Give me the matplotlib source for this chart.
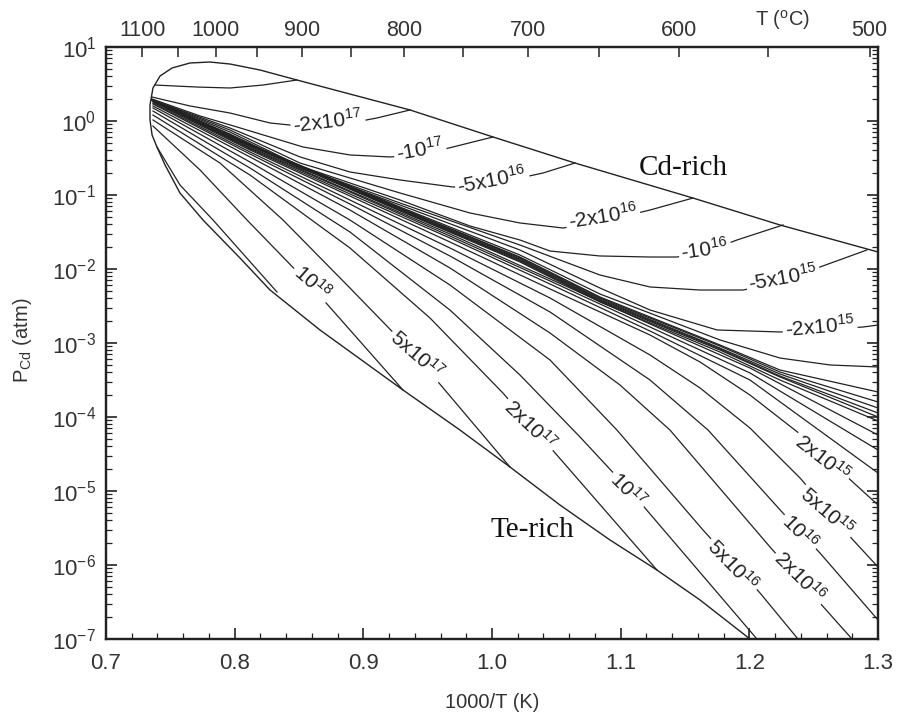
import numpy as np
import matplotlib.pyplot as plt
from matplotlib.ticker import MultipleLocator, LogLocator, NullFormatter

plt.rcParams['font.family'] = ['Liberation Sans', 'DejaVu Sans']
plt.rcParams['mathtext.default'] = 'regular'
plt.rcParams['axes.unicode_minus'] = False

# all curves: x = 1000/T (1/K), lp = log10(P_Cd / atm)

# solidus (existence region of CdTe): Cd-rich side, left tip, Te-rich side
solidus_x = [1.300, 1.2238, 1.1562, 1.0645, 1.0008, 0.9363, 0.8484, 0.8197, 0.7964, 0.7808, 0.7653,
             0.7513, 0.7420, 0.7365, 0.7342, 0.7342, 0.7358, 0.7396, 0.7459, 0.7575, 0.7754, 0.8041,
             0.8275, 0.8663, 0.9308, 0.9751, 1.0140, 1.0528, 1.0917, 1.1282, 1.1617, 1.2005]
solidus_lp = [-1.77, -1.405, -1.041, -0.568, -0.216, 0.149, 0.554, 0.689, 0.770, 0.797, 0.784,
              0.716, 0.608, 0.446, 0.216, 0.014, -0.189, -0.351, -0.595, -0.973, -1.338, -1.851,
              -2.284, -2.824, -3.635, -4.176, -4.676, -5.189, -5.662, -6.068, -6.473, -7.0]

# iso-concentration lines, negative (Cd-rich side)
neg_5e17 = ([0.7381, 0.7536, 0.7707, 0.7964, 0.8220, 0.8484],
            [0.486, 0.473, 0.459, 0.446, 0.486, 0.554])
neg_2e17 = ([0.7358, 0.7653, 0.7964, 0.8275, 0.8508, 0.8819, 0.9106, 0.9363],
            [0.324, 0.203, 0.108, -0.027, -0.068, -0.054, 0.041, 0.149])
neg_1e17 = ([0.7358, 0.7731, 0.8018, 0.8531, 0.8896, 0.9207, 0.9440, 0.9697, 1.0008],
            [0.297, 0.068, -0.081, -0.351, -0.459, -0.486, -0.459, -0.351, -0.216])
neg_5e16 = ([0.7358, 0.7964, 0.8508, 0.8896, 0.9285, 0.9697, 0.9984, 1.0217, 1.0396, 1.0645],
            [0.284, -0.095, -0.486, -0.689, -0.797, -0.892, -0.851, -0.770, -0.703, -0.568])
neg_2e16 = ([0.7358, 0.7964, 0.8508, 0.9285, 0.9829, 1.0217, 1.0552, 1.0839, 1.1228, 1.1562],
            [0.284, -0.122, -0.568, -0.973, -1.243, -1.378, -1.446, -1.365, -1.203, -1.041])
neg_1e16 = ([0.7358, 0.7964, 0.8508, 0.9285, 0.9829, 1.0217, 1.0451, 1.0839, 1.1228, 1.1438, 1.1655, 1.1904, 1.2262],
            [0.284, -0.149, -0.608, -1.068, -1.419, -1.608, -1.757, -1.824, -1.838, -1.838, -1.770, -1.608, -1.405])
neg_5e15 = ([0.7358, 0.7964, 0.8508, 0.9285, 1.0217, 1.0839, 1.1228, 1.1617, 1.1951, 1.2262, 1.2549, 1.2914],
            [0.284, -0.176, -0.622, -1.108, -1.676, -2.081, -2.243, -2.284, -2.284, -2.176, -1.973, -1.743])
neg_2e15 = ([0.7358, 0.7964, 0.8508, 0.9285, 1.0217, 1.0839, 1.1228, 1.1749, 1.2238, 1.2549, 1.2883, 1.300],
            [0.284, -0.189, -0.635, -1.135, -1.743, -2.257, -2.554, -2.824, -2.851, -2.824, -2.784, -2.757])
neg_1e15 = ([0.7358, 0.7964, 0.9285, 1.0217, 1.0839, 1.1772, 1.2238, 1.2627, 1.300],
            [0.284, -0.203, -1.162, -1.811, -2.338, -2.959, -3.203, -3.297, -3.324])
neg_5e14 = ([0.7358, 0.7964, 0.9285, 1.0217, 1.0839, 1.1772, 1.2238, 1.300],
            [0.284, -0.203, -1.176, -1.838, -2.378, -3.027, -3.365, -3.662])

# lines packed round the stoichiometric composition
band_x = [0.7358, 0.7964, 0.9285, 1.0217, 1.0839, 1.1772, 1.2238, 1.300]
band_1 = [0.284, -0.216, -1.176, -1.851, -2.392, -3.041, -3.392, -3.797]
band_2 = [0.284, -0.216, -1.189, -1.865, -2.405, -3.068, -3.419, -3.878]
band_3 = [0.284, -0.216, -1.203, -1.878, -2.419, -3.081, -3.446, -3.946]
band_4 = [0.284, -0.216, -1.203, -1.892, -2.432, -3.095, -3.459, -4.000]
band_5 = [0.284, -0.216, -1.216, -1.905, -2.446, -3.122, -3.500, -4.054]

# iso-concentration lines, positive (Te-rich side)
kx = [0.7365, 0.8119, 0.8896, 0.9673, 1.0451, 1.1228, 1.2005, 1.300]
pos_5e14c = (kx, [0.284, -0.351, -0.946, -1.527, -2.135, -2.743, -3.338, -4.243])
pos_5e14 = (kx, [0.270, -0.365, -0.959, -1.554, -2.162, -2.784, -3.405, -4.446])
pos_1e15 = (kx, [0.270, -0.378, -0.986, -1.581, -2.203, -2.838, -3.500, -4.757])
pos_2e15 = ([0.7365, 0.8119, 0.8896, 0.9673, 1.0451, 1.1228, 1.1617, 1.2005, 1.2394, 1.300],
            [0.257, -0.392, -1.014, -1.635, -2.270, -2.892, -3.257, -3.703, -4.230, -5.189])
pos_5e15 = ([0.7365, 0.8119, 0.8896, 0.9673, 1.0451, 1.1228, 1.1617, 1.2005, 1.2394, 1.2806, 1.300],
            [0.243, -0.419, -1.068, -1.716, -2.392, -3.162, -3.608, -4.149, -4.824, -5.662, -6.027])
pos_1e16 = ([0.7365, 0.8119, 0.8896, 0.9673, 1.0451, 1.1228, 1.1679, 1.2254, 1.2549, 1.300],
            [0.230, -0.446, -1.122, -1.824, -2.581, -3.500, -4.176, -5.284, -5.838, -6.743])
pos_2e16 = ([0.7365, 0.8119, 0.8896, 0.9673, 1.0451, 1.0995, 1.1383, 1.2161, 1.2798],
            [0.203, -0.486, -1.203, -1.986, -2.865, -3.568, -4.176, -5.757, -7.0])
pos_5e16 = ([0.7365, 0.8119, 0.8896, 0.9673, 1.0451, 1.0971, 1.1640, 1.2083, 1.2378],
            [0.176, -0.554, -1.338, -2.216, -3.230, -4.176, -5.527, -6.378, -7.0])
pos_1e17 = ([0.7365, 0.8119, 0.8896, 0.9673, 1.0217, 1.0684, 1.1096, 1.2059],
            [0.135, -0.635, -1.500, -2.554, -3.432, -4.270, -5.041, -7.0])
pos_2e17 = ([0.7365, 0.8119, 0.8896, 0.9518, 1.0085, 1.1282],
            [0.081, -0.730, -1.716, -2.662, -3.676, -6.068])
pos_5e17 = ([0.7365, 0.7886, 0.8376, 0.8896, 0.9417, 1.0140],
            [0.014, -0.568, -1.338, -2.257, -3.189, -4.676])
pos_1e18 = ([0.7365, 0.7731, 0.8096, 0.8601, 0.9308],
            [-0.068, -0.662, -1.338, -2.243, -3.635])
pos_2e18 = ([0.7396, 0.7575, 0.7832, 0.8080, 0.8329],
            [-0.351, -0.865, -1.338, -1.824, -2.311])

# inline labels: text, x, log10 P, angle
lab_text = ['-2x10$^{17}$', '-10$^{17}$', '-5x10$^{16}$', '-2x10$^{16}$', '-10$^{16}$',
            '-5x10$^{15}$', '-2x10$^{15}$',
            '10$^{18}$', '5x10$^{17}$', '2x10$^{17}$', '10$^{17}$', '5x10$^{16}$',
            '2x10$^{16}$', '10$^{16}$', '5x10$^{15}$', '2x10$^{15}$']
lab_x = [0.8725, 0.9440, 1.0000, 1.0862, 1.1655, 1.2262, 1.2549,
         0.8601, 0.9417, 1.0295, 1.1057, 1.1873, 1.2394, 1.2394, 1.2604, 1.2565]
lab_lp = [-0.014, -0.392, -0.797, -1.297, -1.743, -2.122, -2.784,
          -2.189, -3.162, -4.108, -4.986, -6.000, -6.162, -5.554, -5.284, -4.550]
lab_rot = [7, 10, 11, 9, 8, 10, 5,
           -41, -41, -44, -45, -46, -45, -45, -41, -38]

# top axis, degrees C
top_c = [1100, 1000, 900, 800, 700, 600, 500]
top_c_minor = [1050, 950, 850, 750, 650, 550]

ink = '#222222'
txt = '#333333'

fig = plt.figure(figsize=(9.02, 7.17), dpi=100)
ax = fig.add_axes([106 / 902, 1 - 639 / 717, 772 / 902, 592 / 717])

curves = [neg_5e17, neg_2e17, neg_1e17, neg_5e16, neg_2e16, neg_1e16, neg_5e15, neg_2e15,
          neg_1e15, neg_5e14,
          (band_x, band_1), (band_x, band_2), (band_x, band_3), (band_x, band_4), (band_x, band_5),
          pos_5e14c, pos_5e14, pos_1e15, pos_2e15, pos_5e15, pos_1e16, pos_2e16, pos_5e16,
          pos_1e17, pos_2e17, pos_5e17, pos_1e18, pos_2e18]
for xs, lps in curves:
    ax.plot(xs, 10 ** np.array(lps), color=ink, lw=0.9)
ax.plot(solidus_x, 10 ** np.array(solidus_lp), color=ink, lw=1.0)

for t, x, lp, r in zip(lab_text, lab_x, lab_lp, lab_rot):
    ax.text(x, 10 ** lp, t, rotation=r, rotation_mode='anchor', ha='center', va='center',
            fontsize=15, color=ink, zorder=5,
            bbox=dict(boxstyle='square,pad=0.12', fc='white', ec='none'))

ax.text(1.1484, 10 ** -0.635, 'Cd-rich', family='Liberation Serif', fontsize=21,
        ha='center', va='center', color='#111111')
ax.text(1.031, 10 ** -5.527, 'Te-rich', family='Liberation Serif', fontsize=21,
        ha='center', va='center', color='#111111')

ax.set_yscale('log')
ax.set_xlim(0.7, 1.3)
ax.set_ylim(1e-7, 10)
ax.set_xticks([0.7, 0.8, 0.9, 1.0, 1.1, 1.2, 1.3])
ax.set_xticklabels(['0.7', '0.8', '0.9', '1.0', '1.1', '1.2', '1.3'])
ax.xaxis.set_minor_locator(MultipleLocator(0.02))
ax.set_yticks([10.0 ** k for k in range(-7, 2)])
ax.yaxis.set_minor_locator(LogLocator(base=10, subs=np.arange(2, 10), numticks=100))
ax.yaxis.set_minor_formatter(NullFormatter())
ax.tick_params(which='both', direction='in', right=True, top=False, colors=ink, labelcolor=txt)
ax.tick_params(which='major', length=8, width=1.2)
ax.tick_params(which='minor', length=4.5, width=0.9)
ax.tick_params(axis='x', labelsize=16, pad=10)
ax.tick_params(axis='y', labelsize=16, pad=7)

ax_top = ax.twiny()
ax_top.set_xlim(ax.get_xlim())
ax_top.set_xticks([1000 / (c + 273.15) for c in top_c])
ax_top.set_xticklabels([str(c) for c in top_c])
ax_top.set_xticks([1000 / (c + 273.15) for c in top_c_minor], minor=True)
ax_top.tick_params(which='both', direction='in', length=7, width=1.1, colors=ink,
                   labelcolor=txt, labelsize=15.5, pad=4)

for a in (ax, ax_top):
    for s in a.spines.values():
        s.set_linewidth(1.6)
        s.set_color(ink)

fig.text(783 / 902, 1 - 20 / 717, 'T ($^o$C)', fontsize=14.5, color=txt, ha='center', va='center')
fig.text(492 / 902, 1 - 702 / 717, '1000/T (K)', fontsize=14.5, color=txt, ha='center', va='center')
fig.text(22 / 902, 1 - 340 / 717, 'P$_{Cd}$ (atm)', fontsize=14.5, color=txt, rotation=90,
         ha='center', va='center')

fig.savefig('out.png', dpi=100)
